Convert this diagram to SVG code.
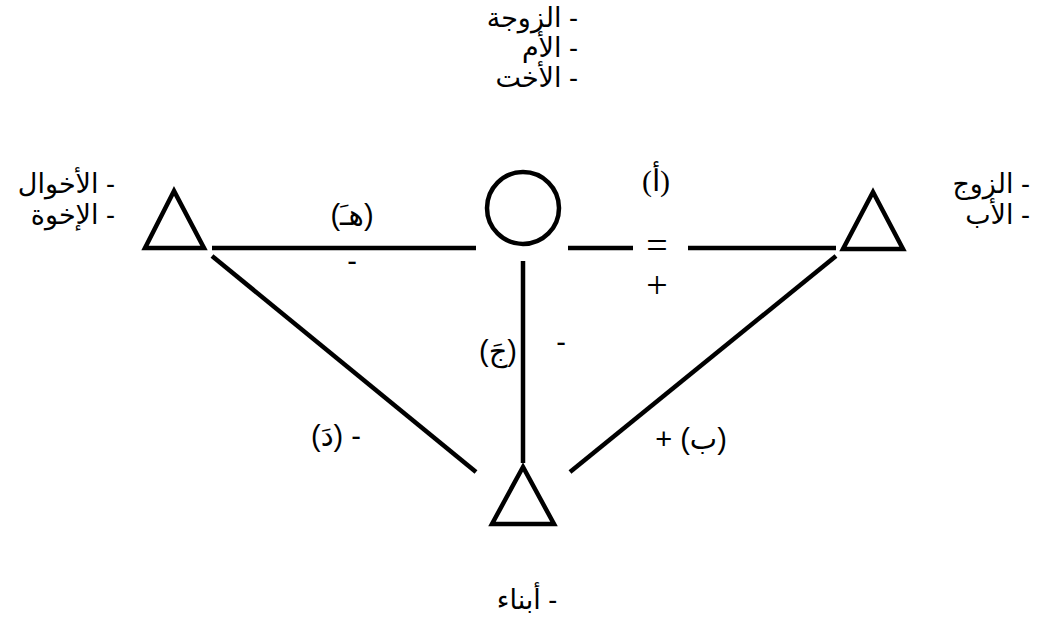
<svg xmlns="http://www.w3.org/2000/svg" width="1038" height="633" viewBox="0 0 1038 633">
<style>
.s{fill:none;stroke:#000;stroke-width:4.5}
.l{stroke:#000;stroke-width:4.5;fill:none}
text{font-family:"Liberation Sans","DejaVu Sans",sans-serif;font-size:29px;fill:#000}
.a{font-size:27px}
.t{font-family:"Liberation Serif","DejaVu Serif",serif;font-size:30px}
.big{font-size:38px}
.r{direction:rtl;text-anchor:start}
.c{text-anchor:middle}
</style>
<rect width="1038" height="633" fill="#fff"/>
<g id="connectors">
<line class="l" x1="212" y1="248" x2="476" y2="248"/>
<line class="l" x1="568" y1="248" x2="633" y2="248"/>
<line class="l" x1="688" y1="248" x2="836" y2="248"/>
<line class="l" x1="523" y1="261" x2="523" y2="463"/>
<line class="l" x1="212" y1="256" x2="476" y2="472"/>
<line class="l" x1="836" y1="256" x2="570" y2="472"/>
</g>
<g id="node-wife">
<circle class="s" cx="523" cy="208" r="36"/>
<text class="a r" x="578" y="27" direction="rtl">- الزوجة</text>
<text class="a r" x="578" y="57" direction="rtl">- الأم</text>
<text class="a r" x="578" y="87" direction="rtl">- الأخت</text>
</g>
<g id="node-uncles">
<polygon class="s" points="174,191 145,248 204,248"/>
<text class="a r" x="115" y="193" direction="rtl">- الأخوال</text>
<text class="a r" x="115" y="224" direction="rtl">- الإخوة</text>
</g>
<g id="node-husband">
<polygon class="s" points="873,192 843,249 903,249"/>
<text class="a r" x="1030" y="193" direction="rtl">- الزوج</text>
<text class="a r" x="1030" y="224" direction="rtl">- الأب</text>
</g>
<g id="node-son">
<polygon class="s" points="523,467 492,524 554,524"/>
<text class="a c" x="527" y="609" direction="rtl">- أبناء</text>
</g>
<g id="labels">
<text class="t c" x="656" y="191">(أ)</text>
<text class="t big c" x="657" y="258">=</text>
<text class="t big c" x="657" y="298">+</text>
<text class="c" x="352" y="225">(هـَ)</text>
<text class="c" x="352" y="271">-</text>
<text class="c" x="498" y="361">(جَ)</text>
<text class="c" x="561" y="352">-</text>
<text class="c" x="336" y="446" direction="rtl">- (دَ)</text>
<text class="c" x="691" y="449" direction="rtl">(ب) +</text>
</g>
</svg>
